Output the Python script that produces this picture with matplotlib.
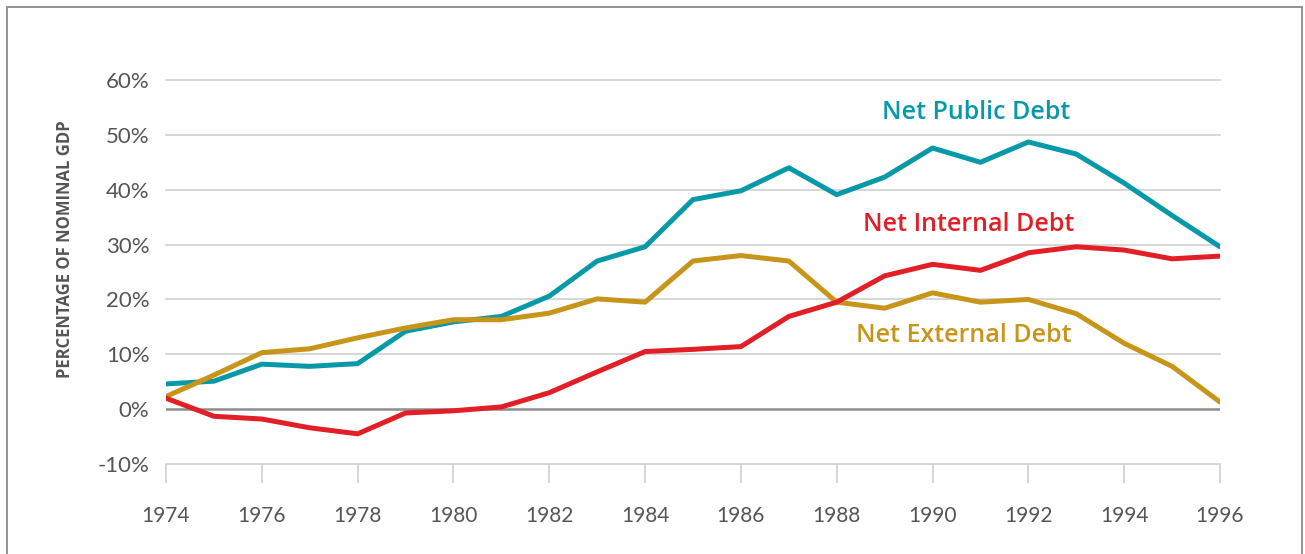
import matplotlib
matplotlib.use("Agg")
import matplotlib.pyplot as plt
from matplotlib.patches import Rectangle

years = list(range(1974, 1997))
public_debt = [4.6, 5.1, 8.2, 7.8, 8.3, 14.2, 15.9, 16.9, 20.6, 27.0, 29.6, 38.2,
               39.8, 44.0, 39.1, 42.3, 47.6, 45.0, 48.7, 46.5, 41.2, 35.3, 29.6]
internal_debt = [2.0, -1.3, -1.8, -3.4, -4.5, -0.7, -0.3, 0.4, 3.0, 6.8, 10.5, 10.9,
                 11.4, 16.9, 19.5, 24.3, 26.4, 25.3, 28.5, 29.6, 29.0, 27.4, 27.9]
external_debt = [2.3, 6.2, 10.3, 11.0, 13.0, 14.8, 16.3, 16.3, 17.5, 20.1, 19.5, 27.0,
                 28.0, 27.0, 19.5, 18.4, 21.2, 19.5, 20.0, 17.4, 12.0, 7.8, 1.3]

y_ticks = [-10, 0, 10, 20, 30, 40, 50, 60]
x_ticks = list(range(1974, 1997, 2))

TEAL = "#0899A8"
RED = "#E21E26"
GOLD = "#C8951B"

plt.rcParams["font.family"] = ["Lato", "DejaVu Sans"]

fig = plt.figure(figsize=(13.05, 5.54), dpi=100)
ax = fig.add_axes([166 / 1305, 1 - 464 / 554, (1220 - 166) / 1305, (464 - 80) / 554])

# frame around the whole graphic
fig.patches.append(Rectangle((7 / 1305, -0.05), (1302 - 7) / 1305, 1.05 - 7 / 554,
                             transform=fig.transFigure, fill=False,
                             edgecolor="#8a8a8a", linewidth=1.3))

for v in y_ticks:
    if v == 0:
        continue
    ax.axhline(v, color="#cfcfcf", linewidth=1.2, zorder=1, clip_on=False)
ax.axhline(0, color="#8c8c8c", linewidth=1.8, zorder=1)

ax.plot(years, public_debt, color=TEAL, linewidth=3.6, zorder=3, solid_capstyle="round")
ax.plot(years, external_debt, color=GOLD, linewidth=3.6, zorder=3, solid_capstyle="round")
ax.plot(years, internal_debt, color=RED, linewidth=3.6, zorder=4, solid_capstyle="round")

ax.set_xlim(1974, 1996)
ax.set_ylim(-10, 60)
for s in ax.spines.values():
    s.set_visible(False)

ax.set_yticks(y_ticks)
ax.set_yticklabels([f"{v}%" for v in y_ticks])
ax.set_xticks(x_ticks)
ax.set_xticklabels([str(x) for x in x_ticks])
ax.tick_params(axis="y", length=0, pad=12, labelsize=16, labelcolor="#555555")
ax.tick_params(axis="x", length=14, width=1.2, color="#cfcfcf", pad=16,
               labelsize=15, labelcolor="#555555")

ax.set_ylabel("PERCENTAGE OF NOMINAL GDP", fontsize=12, fontweight="bold",
              color="#555555", family=["Open Sans", "DejaVu Sans"])
ax.yaxis.set_label_coords(-92 / (1220 - 166), (464 - 249) / (464 - 80))

label_font = ["Open Sans", "DejaVu Sans"]
ax.text(1990.9, 54.1, "Net Public Debt", color=TEAL, fontsize=18,
        ha="center", va="center", fontweight="semibold", family=label_font)
ax.text(1990.75, 33.7, "Net Internal Debt", color=RED, fontsize=18,
        ha="center", va="center", fontweight="semibold", family=label_font)
ax.text(1990.65, 13.4, "Net External Debt", color=GOLD, fontsize=18,
        ha="center", va="center", fontweight="semibold", family=label_font)

fig.savefig("out.png", dpi=100)
